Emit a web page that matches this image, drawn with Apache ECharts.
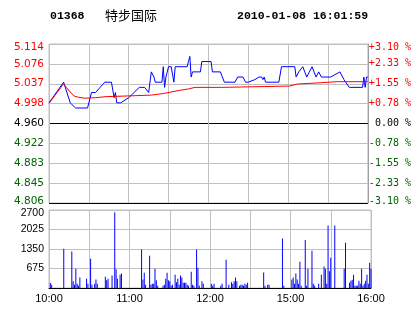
<!DOCTYPE html>
<html>
<head>
<meta charset="utf-8">
<script src="https://cdn.jsdelivr.net/npm/echarts@6/dist/echarts.min.js"></script>
<style>
html,body{margin:0;padding:0;background:#fff;}
#chart{width:414px;height:314px;}
</style>
</head>
<body>
<div id="chart"></div>
<script>
// ---- data (minute index on trading axis: 0 = 10:00, 150 = 12:30/14:30, 240 = 16:00) ----
const stockCode = '01368';
const stockName = '特步国际';
const stampText = '2010-01-08 16:01:59';
const prevClose = 4.960;

const priceTimes = [0,11,16,20,29,32,35,42,47,49,50,51,54,60,64,68,72,75,77,79,80,85,86,87,88,90,92,94,95,104,105,106,107,108,114,115,122,123,129,132,140,142,146,148,150,155,158,160,161,162,163,173,175,185,186,188,191,194,198,201,203,205,212,219,222,226,236,237,238,239,240];
const prices     = [5.00,5.04,5.00,4.99,4.99,5.02,5.02,5.04,5.04,5.01,5.02,5.00,5.00,5.01,5.02,5.03,5.03,5.02,5.06,5.05,5.04,5.04,5.07,5.03,5.05,5.07,5.07,5.04,5.07,5.07,5.08,5.09,5.05,5.06,5.06,5.08,5.08,5.06,5.06,5.04,5.04,5.05,5.05,5.04,5.04,5.045,5.05,5.05,5.045,5.05,5.04,5.04,5.07,5.07,5.05,5.06,5.07,5.05,5.07,5.05,5.06,5.05,5.05,5.06,5.045,5.03,5.03,5.05,5.03,5.05,5.05];

const avgTimes  = [0,11,13,16,19,22,27,35,43,55,77,86,98,105,110,130,131,181,182,187,205,217,240];
const avgPrices = [4.999,5.037,5.030,5.021,5.013,5.011,5.009,5.010,5.012,5.013,5.015,5.018,5.024,5.027,5.030,5.030,5.0325,5.0325,5.0345,5.0365,5.039,5.041,5.041];

const volTimes  = [1,2,11,17,18,19,20,21,22,23,28,29,31,32,34,35,36,42,43,44,47,49,50,51,53,54,69,70,71,72,75,76,77,78,79,80,81,85,86,87,88,89,90,91,92,94,95,96,97,98,99,100,101,102,103,104,106,107,108,110,111,112,114,115,121,122,123,128,129,132,134,136,137,138,139,140,142,143,144,145,146,147,148,160,161,163,164,174,175,181,182,183,184,185,186,187,188,191,192,193,196,197,198,201,203,205,206,207,208,209,210,213,220,221,224,225,226,227,228,229,230,231,232,233,234,235,236,237,238,239,240];
const volumes   = [170,115,1360,1260,230,115,670,150,80,360,320,150,1015,115,150,290,150,390,265,320,430,2620,650,320,460,500,1330,290,530,115,1120,115,150,150,670,265,80,80,115,320,530,265,230,80,115,460,200,320,115,430,360,185,185,185,115,80,565,115,80,1330,700,80,230,150,150,80,150,80,150,980,115,200,150,230,360,230,80,115,115,80,150,115,185,540,80,115,115,1710,80,290,360,150,500,290,150,910,80,1660,80,670,1290,150,80,150,460,740,670,150,2160,580,1050,2160,670,1570,185,254,288,460,80,80,80,254,150,670,80,150,254,460,150,877,670];

const leftPriceLabels = ['4.806','4.845','4.883','4.922','4.960','4.998','5.037','5.076','5.114'];
const rightPctLabels  = ['-3.10 %','-2.33 %','-1.55 %','-0.78 %',' 0.00 %','+0.78 %','+1.55 %','+2.33 %','+3.10 %'];
const volTickLabels   = ['', '675', '1350', '2025', '2700'];
const timeTickPos     = [0, 60, 120, 180, 240];
const timeTickLabels  = ['10:00', '11:00', '12:00', '15:00', '16:00'];

// ---- build ----
const HALF = 154, STEP = 38.5; // thousandths of price around prev close
const toY = p => (p - prevClose) * 1000;
const priceData = priceTimes.map((t, i) => [t, toY(prices[i])]);
const avgData = avgTimes.map((t, i) => [t, toY(avgPrices[i])]);
const volData = volTimes.map((t, i) => [t, volumes[i]]);
const idxOf = v => Math.round((parseFloat(v) + HALF) / STEP);
const sideColor = v => { const i = idxOf(v); return i > 4 ? '#ff0000' : (i < 4 ? '#006400' : '#000000'); };
const edgeWrap = (i, s, last) => i === last ? '{t|' + s + '}' : (i === 0 ? '{b|' + s + '}' : s);

const GRID = '#c0c0c0';
const LFONT = '"DejaVu Sans", sans-serif';
const RFONT = '"DejaVu Sans Mono", monospace';
const VFONT = '"Liberation Sans", Arial, sans-serif';
const chart = echarts.init(document.getElementById('chart'), null, {renderer: 'canvas'});
chart.setOption({
  animation: false,
  backgroundColor: '#ffffff',
  graphic: [
    {type: 'text', x: 50, y: 16, style: {text: stockCode, font: 'bold 11.5px "Liberation Mono", monospace', fill: '#000', verticalAlign: 'middle'}},
    {type: 'text', x: 105, y: 15.5, style: {text: stockName, font: '13px "Noto Sans CJK SC"', fill: '#000', verticalAlign: 'middle'}},
    {type: 'text', x: 237, y: 16, style: {text: stampText, font: 'bold 11.5px "Liberation Mono", monospace', fill: '#000', verticalAlign: 'middle'}}
  ],
  grid: [
    {left: 49, top: 44, width: 322, height: 159, show: true, borderColor: GRID, borderWidth: 1, backgroundColor: 'transparent'},
    {left: 49, top: 210, width: 322, height: 78, show: true, borderColor: GRID, borderWidth: 1, backgroundColor: 'transparent'}
  ],
  xAxis: [
    {gridIndex: 0, type: 'value', min: 0, max: 240, interval: 30,
     axisLabel: {show: false}, axisTick: {show: false}, axisLine: {show: false},
     splitLine: {show: true, lineStyle: {color: GRID, width: 1}}},
    {gridIndex: 1, type: 'value', min: 0, max: 240, interval: 30,
     axisLabel: {show: true, margin: 5, color: '#000', fontFamily: VFONT, fontSize: 11,
       formatter: v => { const k = timeTickPos.indexOf(Math.round(v)); return k >= 0 ? timeTickLabels[k] : ''; }},
     axisTick: {show: false}, axisLine: {show: true, onZero: false, lineStyle: {color: '#000', width: 1}},
     splitLine: {show: true, lineStyle: {color: GRID, width: 1}}}
  ],
  yAxis: [
    {gridIndex: 0, type: 'value', position: 'left', min: -HALF, max: HALF, interval: STEP,
     axisLabel: {margin: 5, fontFamily: LFONT, fontSize: 10.5,
       formatter: v => { const i = idxOf(v); return edgeWrap(i, leftPriceLabels[i] || '', 8); },
       color: v => sideColor(v),
       rich: {
         t: {color: '#ff0000', fontFamily: LFONT, fontSize: 10.5, padding: [7, 0, 0, 0]},
         b: {color: '#006400', fontFamily: LFONT, fontSize: 10.5, padding: [0, 0, 4, 0]}
       }},
     axisTick: {show: false}, axisLine: {show: false},
     splitLine: {show: true, lineStyle: {width: 1, color: ['#000000', GRID, GRID, GRID, '#000000', GRID, GRID, GRID, GRID]}}},
    {gridIndex: 0, type: 'value', position: 'right', min: -HALF, max: HALF, interval: STEP,
     axisLabel: {margin: 1, align: 'left', fontFamily: RFONT, fontSize: 10,
       formatter: v => { const i = idxOf(v); return edgeWrap(i, rightPctLabels[i] || '', 8); },
       color: v => sideColor(v),
       rich: {
         t: {color: '#ff0000', fontFamily: RFONT, fontSize: 10, padding: [7, 0, 0, 0]},
         b: {color: '#006400', fontFamily: RFONT, fontSize: 10, padding: [0, 0, 4, 0]}
       }},
     axisTick: {show: false}, axisLine: {show: true, lineStyle: {color: '#a0a0a0', width: 1}},
     splitLine: {show: false}},
    {gridIndex: 1, type: 'value', position: 'left', min: 0, max: 2700, interval: 675,
     axisLabel: {margin: 5, color: '#000', fontFamily: VFONT, fontSize: 10.5,
       formatter: v => { const i = Math.round(v / 675); const s = volTickLabels[i] || ''; return i === 4 ? '{t|' + s + '}' : s; },
       rich: {t: {color: '#000', fontFamily: VFONT, fontSize: 10.5, padding: [6, 0, 0, 0]}}},
     axisTick: {show: false}, axisLine: {show: false},
     splitLine: {show: true, lineStyle: {color: GRID, width: 1}}}
  ],
  series: [
    {type: 'line', xAxisIndex: 0, yAxisIndex: 0, data: priceData, showSymbol: false, symbol: 'none',
     lineStyle: {color: '#0000ff', width: 1}, z: 3},
    {type: 'line', xAxisIndex: 0, yAxisIndex: 0, data: avgData, showSymbol: false, symbol: 'none',
     lineStyle: {color: '#ff0000', width: 1}, z: 4},
    {type: 'bar', xAxisIndex: 1, yAxisIndex: 2, data: volData, barWidth: 1,
     itemStyle: {color: '#0000ff'}, z: 3}
  ]
});
</script>
</body>
</html>
